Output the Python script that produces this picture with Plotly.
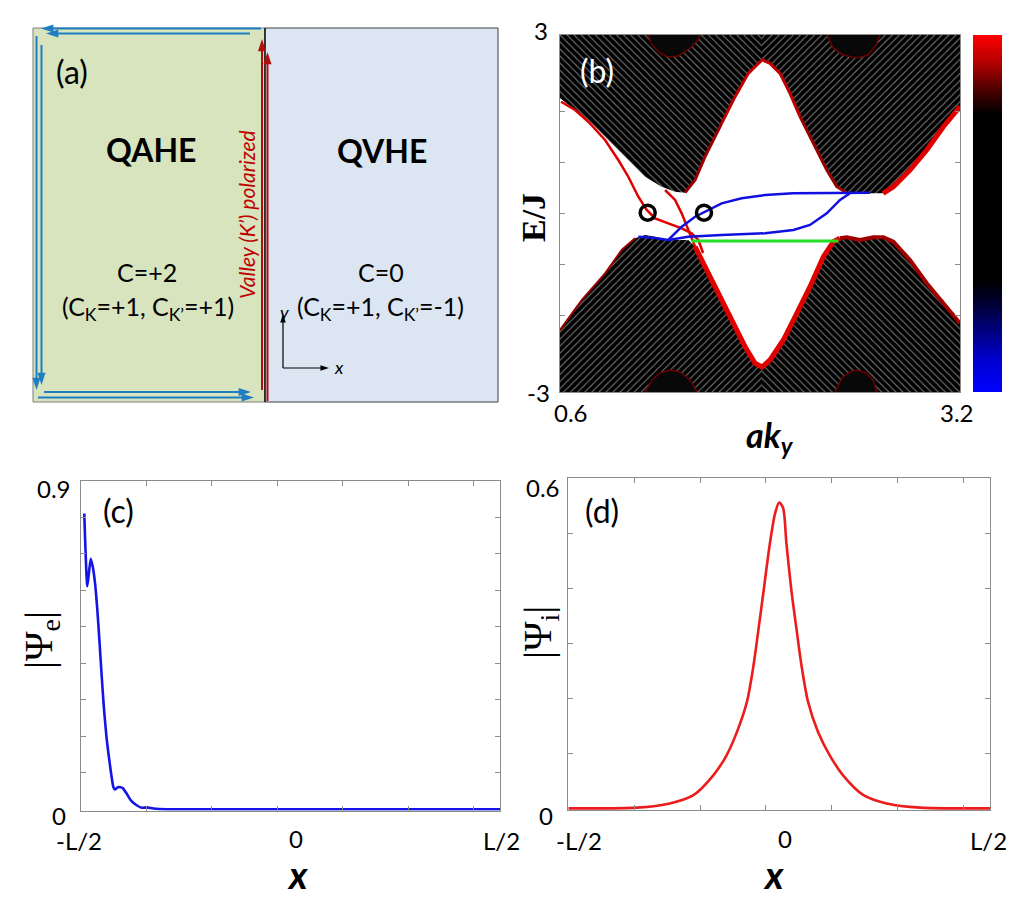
import plotly.graph_objects as go

W, H = 1029, 920


def fx(p):
    return p / W


def fy(p):
    return 1 - p / H


# ---------------- panel (b): band structure outlines ----------------
# lower boundary of the conduction (upper) bands = upper edge of the white gap
cb_k = [0.600, 0.784, 1.001, 1.153, 1.261, 1.348, 1.413, 1.478, 1.543, 1.651, 1.738, 1.824, 1.889, 1.913,
        1.965, 2.030, 2.095, 2.160, 2.247, 2.334, 2.399, 2.464, 2.550, 2.700, 2.767, 2.875, 2.984, 3.092, 3.200]
cb_E = [1.936, 1.571, 1.012, 0.618, 0.450, 0.366, 0.350, 0.563, 0.955, 1.516, 1.963, 2.356, 2.524, 2.580,
        2.524, 2.356, 2.020, 1.627, 1.180, 0.731, 0.450, 0.350, 0.339, 0.339, 0.450, 0.731, 1.067, 1.459, 1.795]
# upper boundary of the valence (lower) bands = lower edge of the white gap
vb_k = [0.600, 0.741, 0.893, 1.001, 1.088, 1.153, 1.218, 1.302, 1.434, 1.478, 1.543, 1.608, 1.673, 1.738,
        1.803, 1.868, 1.913, 1.965, 2.052, 2.139, 2.225, 2.312, 2.377, 2.420, 2.464, 2.550, 2.637, 2.702,
        2.767, 2.875, 2.984, 3.092, 3.200]
vb_E = [-1.958, -1.454, -1.005, -0.614, -0.417, -0.361, -0.390, -0.445, -0.445, -0.558, -0.894, -1.230,
        -1.567, -1.903, -2.239, -2.518, -2.580, -2.462, -2.126, -1.677, -1.230, -0.726, -0.474, -0.417,
        -0.400, -0.445, -0.400, -0.400, -0.474, -0.782, -1.173, -1.509, -1.845]
K_SPLIT = 1.913          # k of the gap apex
CB_APEX, VB_APEX = 13, 16

# darker "bowls" of the next bands at the top and bottom of the window
bowl_tl_k = [1.172, 1.198, 1.250, 1.302, 1.367, 1.445, 1.497, 1.510]
bowl_tl_E = [3.0, 2.832, 2.697, 2.630, 2.647, 2.782, 2.916, 3.0]
bowl_tr_k = [2.336, 2.375, 2.440, 2.531, 2.602, 2.654, 2.680]
bowl_tr_E = [3.0, 2.782, 2.664, 2.613, 2.664, 2.832, 3.0]
bowl_bl_k = [1.153, 1.198, 1.250, 1.315, 1.380, 1.445, 1.491]
bowl_bl_E = [-3.0, -2.798, -2.681, -2.630, -2.664, -2.798, -3.0]
bowl_br_k = [2.388, 2.433, 2.485, 2.531, 2.589, 2.635, 2.660]
bowl_br_E = [-3.0, -2.765, -2.664, -2.630, -2.681, -2.798, -3.0]

# in-gap edge states
edge1_k = [0.607, 0.698, 0.784, 0.893, 0.979, 1.044, 1.109, 1.164, 1.218, 1.304, 1.391, 1.456, 1.499, 1.530]
edge1_E = [1.879, 1.739, 1.543, 1.235, 0.899, 0.618, 0.282, 0.059, -0.081, -0.165, -0.249, -0.333, -0.445, -0.664]
edge2_k = [1.283, 1.348, 1.391, 1.434, 1.478, 1.521]
edge2_E = [0.395, 0.227, 0.003, -0.277, -0.558, -0.782]
blue1_k = [1.109, 1.218, 1.304, 1.391, 1.478, 1.543, 1.651, 1.781, 1.933, 2.115, 2.420, 2.615]
blue1_E = [-0.390, -0.412, -0.445, -0.222, -0.054, 0.030, 0.171, 0.255, 0.311, 0.339, 0.350, 0.350]
blue2_k = [1.304, 1.434, 1.651, 1.933, 2.117, 2.225, 2.334, 2.420, 2.485]
blue2_E = [-0.445, -0.390, -0.361, -0.333, -0.277, -0.193, 0.003, 0.227, 0.339]
green_k = [1.456, 2.409]
green_E = [-0.462, -0.462]
circle_k = [1.170, 1.536]
circle_E = [0.014, 0.014]

b_yticks = [-1.714, -0.857, 0.0, 0.857, 1.714]

# ---------------- panel (c): |Psi_e| ----------------
psi_e_x = [0.5, 0.97, 1.48, 1.79, 2.14, 2.49, 2.80, 3.16, 3.51, 3.92, 4.43, 4.94, 5.19, 5.70, 6.37,
           6.97, 7.58, 8.50, 9.27, 10.05, 11.07, 13.1, 64.0]
psi_e_y = [0.810, 0.611, 0.686, 0.665, 0.620, 0.547, 0.466, 0.365, 0.275, 0.193, 0.120, 0.061, 0.054,
           0.061, 0.058, 0.043, 0.025, 0.011, 0.004, 0.005, 0.002, 0.0, 0.0]

# ---------------- panel (d): |Psi_i| ----------------
psi_i_x = [0.0, 10.4, 15.4, 19.0, 22.0, 24.0, 25.6, 27.1, 28.1, 28.8, 29.6, 30.6, 31.4, 32.0, 32.6,
           33.1, 33.9, 34.7, 35.4, 36.4, 37.9, 39.7, 41.7, 44.8, 48.3, 53.4, 64.0]
psi_i_y = [0.0, 0.0013, 0.009, 0.024, 0.060, 0.096, 0.139, 0.193, 0.259, 0.320, 0.392, 0.482, 0.537,
           0.556, 0.546, 0.482, 0.392, 0.320, 0.259, 0.193, 0.139, 0.096, 0.060, 0.024, 0.009, 0.0013, 0.0]

x_ticks_cd = [10, 20, 30, 40, 50, 60]
c_yticks = [0.1, 0.2, 0.3, 0.4, 0.5, 0.6, 0.7, 0.8]
d_yticks = [0.1, 0.2, 0.3, 0.4, 0.5]

RED = "#e00000"
DARKRED = "#9a0000"
GRAY = "#8c8c8c"

fig = go.Figure()


# ---- panel (b) band regions with striped pattern ----
def band(xs, ys, shape):
    fig.add_trace(go.Scatter(
        x=xs, y=ys, mode="lines", fill="toself", line=dict(width=0, color="black"),
        fillcolor="black",
        fillpattern=dict(shape=shape, bgcolor="black", fgcolor="white", size=5, solidity=0.2),
        xaxis="x", yaxis="y", hoverinfo="skip", showlegend=False))


band([cb_k[0]] + cb_k[:CB_APEX + 1] + [K_SPLIT, cb_k[0]],
     [3.0] + cb_E[:CB_APEX + 1] + [3.0, 3.0], "\\")
band([K_SPLIT] + cb_k[CB_APEX:] + [cb_k[-1], K_SPLIT],
     [3.0] + cb_E[CB_APEX:] + [3.0, 3.0], "/")
band([vb_k[0]] + vb_k[:VB_APEX + 1] + [K_SPLIT, vb_k[0]],
     [-3.0] + vb_E[:VB_APEX + 1] + [-3.0, -3.0], "/")
band([K_SPLIT] + vb_k[VB_APEX:] + [vb_k[-1], K_SPLIT],
     [-3.0] + vb_E[VB_APEX:] + [-3.0, -3.0], "\\")

for bk, be in [(bowl_tl_k, bowl_tl_E), (bowl_tr_k, bowl_tr_E),
               (bowl_bl_k, bowl_bl_E), (bowl_br_k, bowl_br_E)]:
    fig.add_trace(go.Scatter(x=bk, y=be, mode="lines", fill="toself", fillcolor="#080808",
                             line=dict(color="#6a0000", width=1.5), xaxis="x", yaxis="y",
                             hoverinfo="skip", showlegend=False))


def line(xs, ys, color, width):
    fig.add_trace(go.Scatter(x=xs, y=ys, mode="lines", line=dict(color=color, width=width),
                             xaxis="x", yaxis="y", hoverinfo="skip", showlegend=False))


# band-edge colouring
line(cb_k[6:10], cb_E[6:10], DARKRED, 3)
line(cb_k[9:18], cb_E[9:18], "#c00000", 3)
line(cb_k[17:22], cb_E[17:22], DARKRED, 3)
line(cb_k[23:], cb_E[23:], RED, 5)
line(vb_k[:5], vb_E[:5], DARKRED, 2)
line(vb_k[9:24], vb_E[9:24], RED, 5)
line(vb_k[23:], vb_E[23:], "#a00000", 4)
# edge states
line(edge1_k, edge1_E, RED, 2.5)
line(edge2_k, edge2_E, RED, 2.5)
line(blue1_k, blue1_E, "#1010e0", 2.5)
line(blue2_k, blue2_E, "#1010e0", 2.5)
line(green_k, green_E, "#22e022", 3)
fig.add_trace(go.Scatter(x=circle_k, y=circle_E, mode="markers",
                         marker=dict(symbol="circle-open", size=15, color="black", line=dict(width=3.5)),
                         xaxis="x", yaxis="y", hoverinfo="skip", showlegend=False))

# colour bar of panel (b)
fig.add_trace(go.Scatter(
    x=[None], y=[None], mode="markers", xaxis="x", yaxis="y", showlegend=False, hoverinfo="skip",
    marker=dict(color=[0], cmin=-1, cmax=1, showscale=True,
                colorscale=[[0.0, "#0000ff"], [0.09, "#0000d0"], [0.17, "#000080"], [0.26, "#000028"],
                            [0.31, "#000000"], [0.78, "#000000"], [0.85, "#500000"], [0.92, "#b00000"],
                            [1.0, "#ff0000"]],
                colorbar=dict(thickness=29, thicknessmode="pixels", len=357, lenmode="pixels",
                              x=fx(973), xanchor="left", xpad=0, y=fy(213.5), yanchor="middle", ypad=0,
                              outlinewidth=0, showticklabels=False, ticks=""))))

# ---- panel (c) ----
fig.add_trace(go.Scatter(x=psi_e_x, y=psi_e_y, mode="lines",
                         line=dict(color="#1414e6", width=2.6, shape="spline", smoothing=0.5),
                         xaxis="x2", yaxis="y2", hoverinfo="skip", showlegend=False))
# ---- panel (d) ----
fig.add_trace(go.Scatter(x=psi_i_x, y=psi_i_y, mode="lines",
                         line=dict(color="#ec1c1c", width=2.6, shape="spline", smoothing=0.8),
                         xaxis="x3", yaxis="y3", hoverinfo="skip", showlegend=False))

axis_common = dict(showline=True, linecolor=GRAY, linewidth=1, mirror="ticks", ticks="inside",
                   ticklen=5, tickcolor=GRAY, tickwidth=1, showticklabels=False, showgrid=False,
                   zeroline=False, fixedrange=True)

fig.update_layout(
    width=W, height=H, margin=dict(l=0, r=0, t=0, b=0), paper_bgcolor="white",
    plot_bgcolor="rgba(0,0,0,0)",
    font=dict(family="Lato", color="black"), showlegend=False,
    xaxis=dict(domain=[fx(560), fx(960)], range=[0.6, 3.2], anchor="y",
               **{**axis_common, "ticks": ""}),
    yaxis=dict(domain=[fy(392), fy(35)], range=[-3, 3], anchor="x", tickvals=b_yticks, **axis_common),
    xaxis2=dict(domain=[fx(81), fx(500)], range=[0, 64], anchor="y2", tickvals=x_ticks_cd, **axis_common),
    yaxis2=dict(domain=[fy(810.7), fy(480.7)], range=[-0.004, 0.9], anchor="x2", tickvals=c_yticks,
                **axis_common),
    xaxis3=dict(domain=[fx(568.3), fx(990)], range=[0, 64], anchor="y3", tickvals=x_ticks_cd, **axis_common),
    yaxis3=dict(domain=[fy(810), fy(478.3)], range=[-0.003, 0.6], anchor="x3", tickvals=d_yticks,
                **axis_common),
    # invisible full-page axes (pixel units) for the schematic of panel (a)
    xaxis4=dict(domain=[0, 1], range=[0, W], visible=False, fixedrange=True, anchor="y4"),
    yaxis4=dict(domain=[0, 1], range=[H, 0], visible=False, fixedrange=True, anchor="x4"),
)

# ---------------- panel (a): schematic ----------------
shapes = [
    dict(type="rect", xref="paper", yref="paper", x0=fx(33), x1=fx(265), y0=fy(402), y1=fy(28),
         fillcolor="#d7e4bd", line=dict(color="#7f7f7f", width=1), layer="below"),
    dict(type="rect", xref="paper", yref="paper", x0=fx(265), x1=fx(498), y0=fy(402), y1=fy(28),
         fillcolor="#dce6f2", line=dict(color="#404040", width=1), layer="below"),
    dict(type="line", xref="paper", yref="paper", x0=fx(265), x1=fx(265), y0=fy(402), y1=fy(28),
         line=dict(color="black", width=1.2), layer="below"),
]
fig.update_layout(shapes=shapes)


def arrow(tail, head, color, width=2.0, size=13):
    fig.add_trace(go.Scatter(
        x=[tail[0], head[0]], y=[tail[1], head[1]], mode="lines+markers",
        line=dict(color=color, width=width),
        marker=dict(symbol="arrow", size=size, angleref="previous", color=color),
        xaxis="x4", yaxis="y4", hoverinfo="skip", showlegend=False))


BLUE_A = "#1f7ec2"
arrow((261, 28.5), (41, 28.5), BLUE_A)
arrow((250, 33.5), (46, 33.5), BLUE_A)
arrow((36.5, 36), (36.5, 390), BLUE_A)
arrow((41.5, 45), (41.5, 385), BLUE_A)
arrow((44, 392), (251, 392), BLUE_A)
arrow((38, 397.5), (254, 397.5), BLUE_A)
REDA = "#b00f0f"
arrow((262, 390), (262, 39), REDA)
arrow((267.5, 401), (267.5, 52), REDA)
arrow((283, 368), (283, 314), "black", width=1.2, size=9)
arrow((283, 368), (329, 368), "black", width=1.2, size=9)

ann = []


def text(x, y, s, size, color="black", family="Lato", angle=0):
    ann.append(dict(xref="paper", yref="paper", x=fx(x), y=fy(y), text=s, showarrow=False,
                    xanchor="center", yanchor="middle", textangle=angle,
                    font=dict(size=size, color=color, family=family)))


text(72, 71, "(a)", 32)
text(151, 149, "<b>QAHE</b>", 32)
text(146.5, 272, "C=+2", 25)
text(148, 308, "(C<sub>K</sub>=+1, C<sub>K’</sub>=+1)", 25)
text(381.5, 150, "<b>QVHE</b>", 32)
text(381, 272, "C=0", 25)
text(380, 308, "(C<sub>K</sub>=+1, C<sub>K’</sub>=-1)", 25)
text(284, 312, "<i>y</i>", 18)
text(339, 367, "<i>x</i>", 18)
text(246, 215, "<i>Valley (K’) polarized</i>", 21, color="#c00000", angle=-90)

# panel (b) texts
text(597, 70, "(b)", 32, color="white")
text(541, 31, "3", 24)
text(538, 393, "-3", 24)
text(571, 412, "0.6", 24)
text(957, 412, "3.2", 24)
text(534, 218, "<b>E/J</b>", 34, family="Liberation Serif", angle=-90)
text(770, 437, "<b><i>ak</i></b><sub><b><i>y</i></b></sub>", 34)

# panel (c) texts
text(118, 511, "(c)", 32)
text(54, 488, "0.9", 24)
text(59, 815, "0", 24)
text(79, 840, "-L/2", 24)
text(296, 838, "0", 24)
text(501, 840, "L/2", 24)
text(297, 874, "<b><i>x</i></b>", 38)
text(41, 640, "|Ψ<sub>e</sub>|", 40, family="Liberation Serif", angle=-90)

# panel (d) texts
text(602, 510, "(d)", 32)
text(543, 487, "0.6", 24)
text(546, 815, "0", 24)
text(579, 840, "-L/2", 24)
text(785, 838, "0", 24)
text(988, 840, "L/2", 24)
text(773, 874, "<b><i>x</i></b>", 38)
text(540, 633, "|Ψ<sub>i</sub>|", 40, family="Liberation Serif", angle=-90)

fig.update_layout(annotations=ann)

fig.write_html("out.html")
